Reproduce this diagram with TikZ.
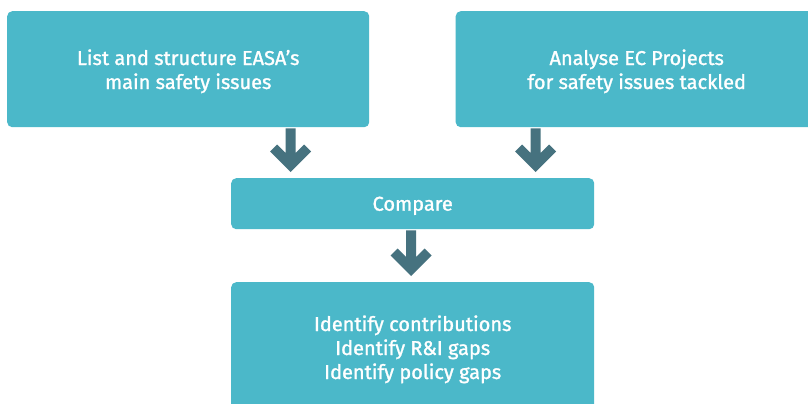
\documentclass[tikz,border=0pt]{standalone}
\usepackage{fontspec}
\setmainfont{Fira Sans}[FakeBold=1.3]
\usetikzlibrary{calc}
\definecolor{boxc}{RGB}{75,184,201}
\definecolor{arrowc}{RGB}{70,114,127}
\tikzset{
  box/.style={fill=boxc, rounded corners=5pt, text=white, align=center,
    font=\fontsize{20}{24}\selectfont, inner sep=0pt, text depth=0pt,
    anchor=north west},
  flowarrow/.style={fill=arrowc}
}
\newcommand\flowarrow[3]{%
  \coordinate (s) at (#2.south -| #1);
  \coordinate (t) at ([yshift=6pt]#3.north -| #1);
  \fill[flowarrow] (t) -- ++(20.5,-20.5) -- ++(-7,-7) -- ($(t)+(5,-19)$)
    -- ($(s)+(5,1)$) -- ($(s)+(-5,1)$) -- ($(t)+(-5,-19)$)
    -- ($(t)+(-13.5,-27.5)$) -- ($(t)+(-20.5,-20.5)$) -- cycle;
}
\begin{document}
\begin{tikzpicture}[x=1pt,y=-1pt]
\useasboundingbox (0,0) rectangle (808,404);
\fill[white] (0,0) rectangle (808,404);
\node[box, minimum width=362pt, minimum height=116pt] (b1) at (7,11)
  {List and structure EASA’s\\main safety issues};
\node[box, minimum width=362pt, minimum height=116pt] (b2) at (455.5,11)
  {Analyse EC Projects\\for safety issues tackled};
\node[box, minimum width=363pt, minimum height=51pt] (cmp) at (231,178)
  {Compare};
\node[box, minimum width=363pt, minimum height=130pt] (res) at (231,282)
  {Identify contributions\\Identify R\&I gaps\\Identify policy gaps};
\coordinate (x1) at (290.5,0);
\coordinate (x2) at (535.5,0);
\coordinate (x3) at (411,0);
\flowarrow{x1}{b1}{cmp}
\flowarrow{x2}{b2}{cmp}
\flowarrow{x3}{cmp}{res}
\end{tikzpicture}
\end{document}
